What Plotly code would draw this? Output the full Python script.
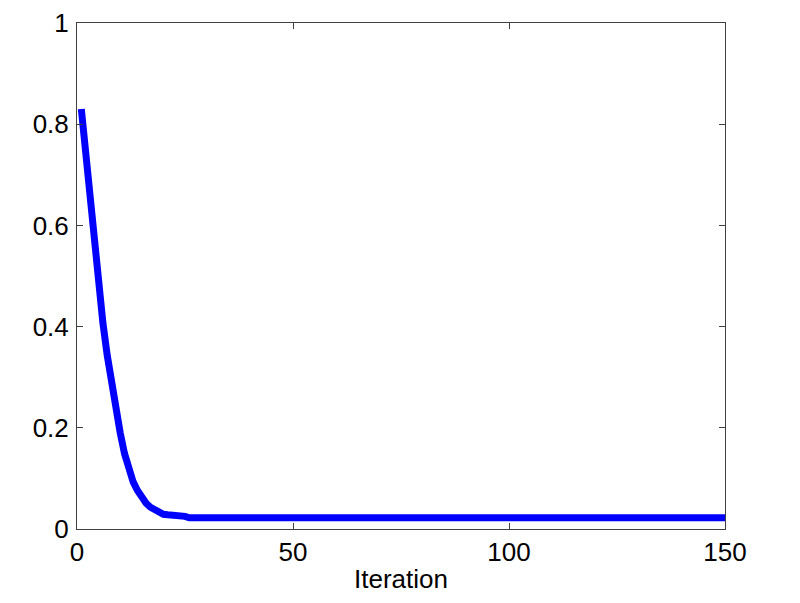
import plotly.graph_objects as go

# error per iteration, tail is flat at ~0.022
iterations = [1, 2, 3, 4, 5, 6, 7, 8, 9, 10, 11, 12, 13, 14, 15, 16, 17, 18,
              19, 20, 21, 22, 23, 24, 25, 26, 150]
error = [0.830, 0.742, 0.654, 0.567, 0.482, 0.407, 0.343, 0.288, 0.238, 0.190,
         0.149, 0.117, 0.093, 0.076, 0.062, 0.051, 0.043, 0.037, 0.032, 0.029,
         0.028, 0.028, 0.028, 0.027, 0.025, 0.022, 0.022]

x_ticks = [0, 50, 100, 150]
y_ticks = [0, 0.2, 0.4, 0.6, 0.8, 1]
y_tick_text = ["0", "0.2", "0.4", "0.6", "0.8", "1"]

font = dict(family="Liberation Sans, Arial", size=26, color="black")

fig = go.Figure()
fig.add_trace(
    go.Scatter(
        x=iterations,
        y=error,
        mode="lines",
        line=dict(color="#0000ff", width=7),
        showlegend=False,
    )
)

axis_style = dict(
    showgrid=False,
    zeroline=False,
    showline=True,
    linecolor="#404040",
    linewidth=1,
    mirror="ticks",
    ticks="inside",
    ticklen=6,
    tickcolor="#404040",
    tickfont=font,
    automargin=False,
)

fig.update_xaxes(
    range=[0, 150],
    tickvals=x_ticks,
    title=dict(text="Iteration", font=font, standoff=3),
    **axis_style,
)
fig.update_yaxes(
    range=[0, 1],
    tickvals=y_ticks,
    ticktext=y_tick_text,
    ticklabelstandoff=2,
    **axis_style,
)

# page body adds an 8px offset, so margins are shifted to compensate
fig.update_layout(
    width=800,
    height=603,
    margin=dict(l=69, r=83, t=15, b=82),
    paper_bgcolor="white",
    plot_bgcolor="white",
)

fig.write_html("out.html")
